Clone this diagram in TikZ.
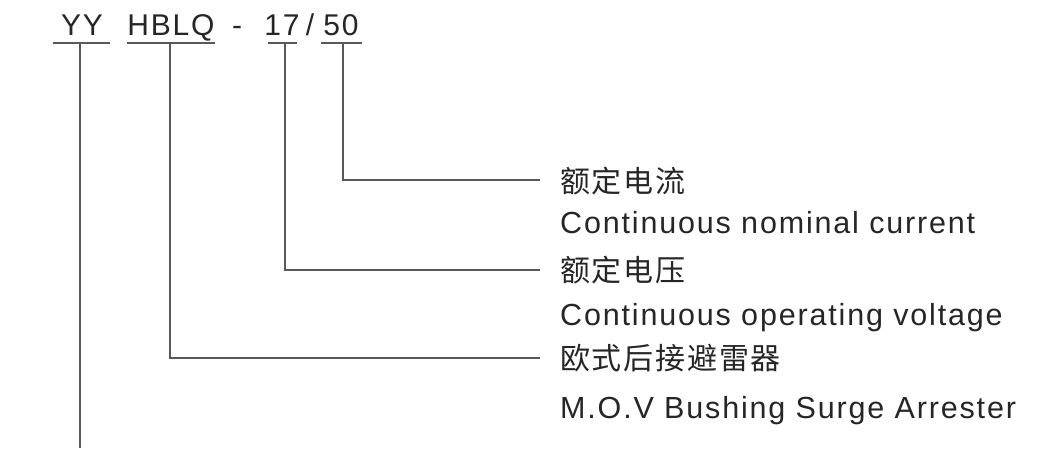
\documentclass[tikz,border=0pt]{standalone}
\usepackage{fontspec}
\setmainfont{Liberation Sans}[LetterSpace=6]
\newfontfamily\cjk{Noto Sans CJK SC}[LetterSpace=6]
\begin{document}
\begin{tikzpicture}[x=1pt,y=-1pt,
  lbl/.style={inner sep=0pt,anchor=base west,text=black!85,font=\fontsize{30.5}{32}\selectfont},
  clbl/.style={inner sep=0pt,anchor=base west,text=black!85,font=\cjk\fontsize{30}{32}\selectfont},
  code/.style={inner sep=0pt,anchor=base,text=black!85,font=\fontsize{30}{32}\selectfont},
  ul/.style={draw=black!65,line width=1.4pt},
  con/.style={draw=black!65,line width=1.4pt}]
\useasboundingbox[fill=white] (0,0) rectangle (1062,448);
% code letters
\node[code] (yy) at (82,35.5) {YY};
\node[code] (hblq) at (171,35.5) {HBLQ};
\node[code] (dash) at (237,35.5) {-};
\node[code] (v17) at (282,35.5) {17};
\node[code] (sl) at (310,35.5) {/};
\node[code] (v50) at (341,35.5) {50};
% underlines
\draw[ul] (53,43) -- (110,43);
\draw[ul] (127,43) -- (215,43);
\draw[ul] (268,43) -- (297,43);
\draw[ul] (321,43) -- (362,43);
% labels
\node[clbl] (c1) at (560,192) {额定电流};
\node[lbl] (e1) at (560,233) {Continuous nominal current};
\node[clbl] (c2) at (560,281) {额定电压};
\node[lbl] (e2) at (560,325) {Continuous operating voltage};
\node[clbl] (c3) at (560,369) {欧式后接避雷器};
\node[lbl] (e3) at (560,418) {M.O.V Bushing Surge Arrester};
% connectors
\coordinate (t50) at (343,43);
\coordinate (t17) at (285,43);
\coordinate (thb) at (170,43);
\coordinate (tyy) at (80,43);
\coordinate (byy) at (80,448);
\coordinate (k1) at (540,180);
\coordinate (k2) at (540,270);
\coordinate (k3) at (540,358);
\draw[con] (t50) |- (k1);
\draw[con] (t17) |- (k2);
\draw[con] (thb) |- (k3);
\draw[con] (tyy) -- (byy);
\end{tikzpicture}
\end{document}
